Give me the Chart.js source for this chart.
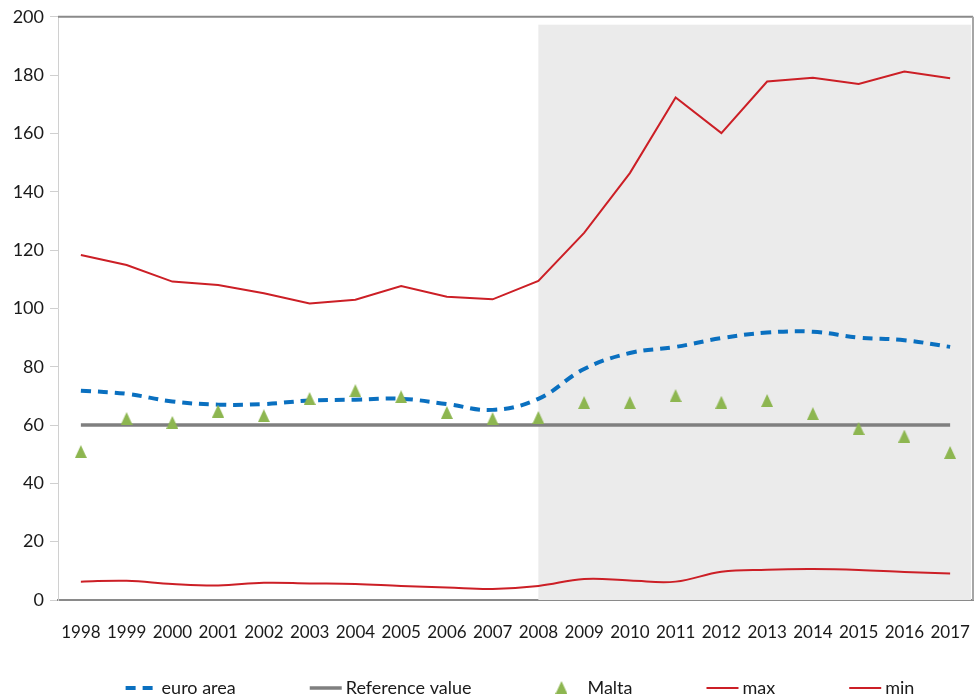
<!DOCTYPE html>
<html>
<head>
<meta charset="utf-8">
<script src="https://cdn.jsdelivr.net/npm/chart.js@4/dist/chart.umd.min.js"></script>
<style>
  html, body { margin: 0; padding: 0; background: #ffffff; }
  #wrap { width: 980px; height: 700px; }
</style>
</head>
<body>
<div id="wrap"><canvas id="debtChart" width="980" height="700"></canvas></div>
<script>
// Government debt, % of GDP
const years = ['1998','1999','2000','2001','2002','2003','2004','2005','2006','2007',
               '2008','2009','2010','2011','2012','2013','2014','2015','2016','2017'];
const euroArea = [71.8, 70.7, 68.1, 67.0, 67.2, 68.4, 68.7, 69.0, 67.2, 65.2,
                  69.0, 79.2, 84.7, 86.8, 89.8, 91.7, 92.0, 90.0, 89.1, 86.8];
const referenceValue = [60, 60, 60, 60, 60, 60, 60, 60, 60, 60,
                        60, 60, 60, 60, 60, 60, 60, 60, 60, 60];
const malta = [50.9, 62.2, 60.9, 64.8, 63.2, 69.1, 71.8, 69.7, 64.3, 62.2,
               62.6, 67.7, 67.7, 70.1, 67.8, 68.4, 63.9, 58.8, 56.2, 50.6];
const maxValues = [118.3, 114.9, 109.2, 108.0, 105.2, 101.7, 103.0, 107.7, 104.0, 103.1,
                   109.4, 125.9, 146.4, 172.3, 160.1, 177.8, 179.1, 177.0, 181.2, 178.9];
const minValues = [6.3, 6.6, 5.5, 5.0, 5.9, 5.7, 5.5, 4.8, 4.3, 3.8,
                   4.8, 7.2, 6.7, 6.3, 9.7, 10.4, 10.6, 10.3, 9.6, 9.1];
const yTicks = [0, 20, 40, 60, 80, 100, 120, 140, 160, 180, 200];

// shaded period: from this year to the end of the axis
const shadeFrom = '2008';
const shadeTop = 197.3;

const FONT = 'Lato, "Liberation Sans", sans-serif';
const RED = '#cc1f26';
const BLUE = '#0a70c0';
const GREY = '#7f7f7f';
const GREEN = '#8db650';

// triangle marker centred on its bounding box
function makeTriangle(w, h, color) {
  const c = document.createElement('canvas');
  c.width = w; c.height = h;
  const g = c.getContext('2d');
  g.fillStyle = color;
  g.beginPath();
  g.moveTo(w / 2, 0);
  g.lineTo(w, h);
  g.lineTo(0, h);
  g.closePath();
  g.fill();
  return c;
}
const triangle = makeTriangle(12, 13, GREEN);

const shadePlugin = {
  id: 'shade',
  beforeDatasetsDraw(chart) {
    const { ctx, chartArea, scales } = chart;
    const x0 = scales.x.getPixelForValue(years.indexOf(shadeFrom));
    const y0 = scales.y.getPixelForValue(shadeTop);
    ctx.save();
    ctx.fillStyle = '#ebebeb';
    ctx.fillRect(x0, y0, chartArea.right - 2 - x0, chartArea.bottom - y0);
    ctx.restore();
  }
};

const framePlugin = {
  id: 'frame',
  afterDatasetsDraw(chart) {
    const { ctx, chartArea } = chart;
    ctx.save();
    ctx.lineWidth = 2;
    ctx.strokeStyle = '#8a8a8a';
    ctx.beginPath();
    ctx.moveTo(chartArea.left, chartArea.top);
    ctx.lineTo(chartArea.right, chartArea.top);
    ctx.stroke();
    ctx.strokeStyle = '#a6a6a6';
    ctx.beginPath();
    ctx.moveTo(chartArea.right, chartArea.top);
    ctx.lineTo(chartArea.right, chartArea.bottom);
    ctx.stroke();
    ctx.restore();
  }
};

const legendPlugin = {
  id: 'bottomLegend',
  afterDraw(chart) {
    const { ctx, chartArea } = chart;
    const sampleW = 32, textGap = 4, itemGap = 74, y = 688;
    ctx.save();
    ctx.font = '18px ' + FONT;
    ctx.textBaseline = 'middle';
    const items = chart.data.datasets.map(ds => {
      const gap = ds.showLine === false ? 10 : textGap;
      return { ds, gap, w: sampleW + gap + ctx.measureText(ds.label).width };
    });
    const total = items.reduce((s, it) => s + it.w, 0) + itemGap * (items.length - 1);
    let x = 520 - total / 2;
    items.forEach(({ ds, gap, w }) => {
      if (ds.showLine === false) {
        ctx.drawImage(triangle, x + sampleW / 2 - 6, y - 7);
      } else {
        ctx.strokeStyle = ds.borderColor;
        ctx.lineWidth = ds.borderWidth;
        ctx.setLineDash(ds.borderDash || []);
        ctx.beginPath();
        ctx.moveTo(x, y);
        ctx.lineTo(x + sampleW, y);
        ctx.stroke();
        ctx.setLineDash([]);
      }
      ctx.fillStyle = '#1a1a1a';
      ctx.fillText(ds.label, x + sampleW + gap, y);
      x += w + itemGap;
    });
    ctx.restore();
  }
};

new Chart(document.getElementById('debtChart'), {
  type: 'line',
  data: {
    labels: years,
    datasets: [
      { label: 'euro area', data: euroArea, borderColor: BLUE, borderWidth: 4,
        borderDash: [10, 7], tension: 0.4, pointRadius: 0, order: 1 },
      { label: 'Reference value', data: referenceValue, borderColor: GREY, borderWidth: 3.5,
        tension: 0, pointRadius: 0, order: 2 },
      { label: 'Malta', data: malta, showLine: false, pointStyle: triangle,
        pointRadius: 6, backgroundColor: GREEN, borderColor: GREEN, order: 0 },
      { label: 'max', data: maxValues, borderColor: RED, borderWidth: 2,
        tension: 0, pointRadius: 0, order: 3 },
      { label: 'min', data: minValues, borderColor: RED, borderWidth: 2,
        tension: 0.4, pointRadius: 0, order: 3 }
    ]
  },
  options: {
    responsive: false,
    animation: false,
    layout: { padding: { top: 15, right: 5, bottom: 50, left: 0 } },
    plugins: {
      legend: { display: false },
      tooltip: { enabled: false }
    },
    scales: {
      x: {
        offset: true,
        grid: { display: false, drawTicks: false },
        border: { color: '#8a8a8a', width: 2 },
        ticks: { font: { family: FONT, size: 17 }, color: '#1a1a1a', padding: 22,
                 maxRotation: 0, autoSkip: false },
        afterFit(scale) {
          scale.height = 50;
          scale.paddingLeft = 0;
          scale.paddingRight = 0;
        }
      },
      y: {
        min: 0, max: 200,
        afterBuildTicks(scale) { scale.ticks = yTicks.map(v => ({ value: v })); },
        grid: { drawOnChartArea: false, drawTicks: true, tickLength: 8, color: '#d0d0d0' },
        border: { color: '#d0d0d0', width: 1 },
        ticks: { font: { family: FONT, size: 18 }, color: '#1a1a1a', padding: 6 },
        afterFit(scale) { scale.width = 58; }
      }
    }
  },
  plugins: [shadePlugin, framePlugin, legendPlugin]
});
</script>
</body>
</html>
